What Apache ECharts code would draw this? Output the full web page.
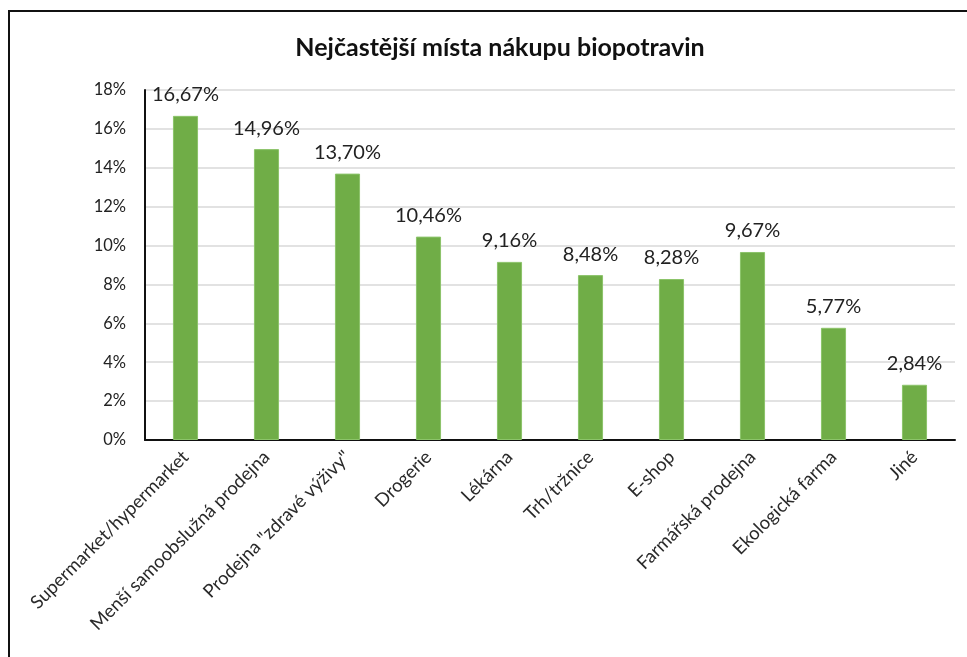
<!DOCTYPE html>
<html>
<head>
<meta charset="utf-8">
<script src="https://cdn.jsdelivr.net/npm/echarts@6/dist/echarts.min.js"></script>
<style>
  html, body { margin: 0; padding: 0; background: #fff; }
  #chart { width: 967px; height: 657px; }
</style>
</head>
<body>
<div id="chart"></div>
<script>
// kategorie a hodnoty (v %)
const categories = [
  'Supermarket/hypermarket',
  'Menší samoobslužná prodejna',
  'Prodejna "zdravé výživy"',
  'Drogerie',
  'Lékárna',
  'Trh/tržnice',
  'E-shop',
  'Farmářská prodejna',
  'Ekologická farma',
  'Jiné'
]
const values = [16.67, 14.96, 13.70, 10.46, 9.16, 8.48, 8.28, 9.67, 5.77, 2.84]
const titleText = 'Nejčastější místa nákupu biopotravin'

const chart = echarts.init(document.getElementById('chart'))
const font = 'Lato, "Open Sans", sans-serif'

chart.setOption({
  animation: false,
  textStyle: { fontFamily: font },
  title: {
    text: titleText,
    left: 495,
    top: 30,
    textAlign: 'center',
    textStyle: { fontSize: 25, fontWeight: 'bold', color: '#111', fontFamily: font }
  },
  // rámeček kolem grafu
  graphic: [{
    type: 'rect',
    shape: { x: 9, y: 11, width: 1000, height: 700 },
    style: { fill: 'none', stroke: '#111', lineWidth: 2 },
    silent: true
  }],
  grid: { left: 145, right: 12, top: 90, bottom: 217 },
  xAxis: {
    type: 'category',
    data: categories,
    axisLine: { lineStyle: { color: '#111', width: 2 } },
    axisTick: { show: false },
    axisLabel: {
      interval: 0,
      rotate: 45,
      margin: 14,
      fontSize: 18.5,
      color: '#2a2a2a',
      fontFamily: font
    }
  },
  yAxis: {
    type: 'value',
    min: 0,
    max: 18,
    interval: 2,
    axisLine: { show: true, lineStyle: { color: '#111', width: 2 } },
    axisTick: { show: false },
    splitLine: { lineStyle: { color: '#d9d9d9', width: 1.5 } },
    axisLabel: {
      formatter: v => v + '%',
      fontSize: 16.5,
      color: '#222',
      margin: 19,
      fontFamily: font
    }
  },
  series: [{
    type: 'bar',
    data: values,
    barWidth: '31%',
    itemStyle: { color: '#70AD47', borderColor: '#8cc46a', borderWidth: 1 },
    label: {
      show: true,
      position: 'top',
      distance: 11,
      fontSize: 20,
      color: '#222',
      fontFamily: font,
      formatter: p => p.value.toFixed(2).replace('.', ',') + '%'
    }
  }]
})
</script>
</body>
</html>
